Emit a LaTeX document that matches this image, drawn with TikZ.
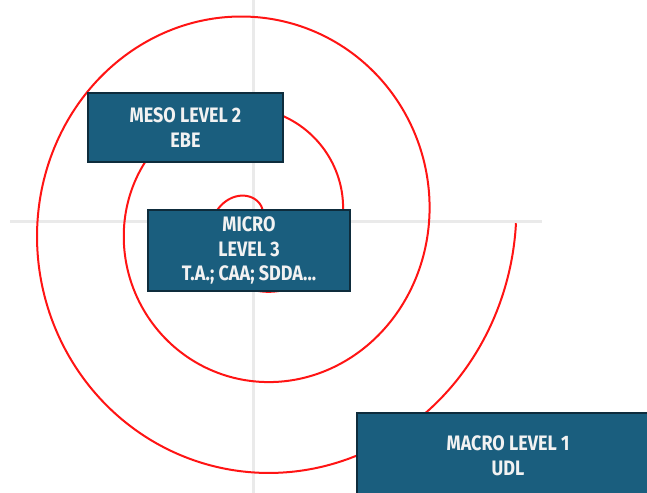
\documentclass[tikz,border=0pt]{standalone}
\usepackage{fontspec}
\setmainfont{Fira Sans}[FakeStretch=0.86]
\definecolor{boxfill}{RGB}{26,94,126}
\definecolor{boxline}{RGB}{14,44,60}
\definecolor{gridgray}{RGB}{234,234,234}
\definecolor{spiralred}{RGB}{255,20,20}
\tikzset{
  gridline/.style={draw=gridgray, line width=3bp},
  spiralline/.style={draw=spiralred, line width=2bp},
  lvl/.style={draw=boxline, fill=boxfill, text=white!95!black, align=center,
    line width=1.3bp, inner sep=0pt,
    font=\bfseries\fontsize{21}{25}\selectfont}
}
\begin{document}
\begin{tikzpicture}[x=1bp,y=-1bp]
\useasboundingbox (0,0) rectangle (647,493);
\clip (0,0) rectangle (647,493);
\fill[white] (0,0) rectangle (647,493);
\draw[gridline] (253,0) -- (253,493);
\draw[gridline] (10,222) -- (542,222);
\draw[spiralline] plot[domain=0:18.85, samples=500, smooth]
  ({255+13.85*\x*cos(\x r)}, {222-14.5*\x*sin(\x r)});
\node[lvl, minimum width=195bp, minimum height=69bp] (meso) at (185.5,127.5) {MESO LEVEL 2\\EBE};
\node[lvl, minimum width=202bp, minimum height=81bp] (micro) at (249,250.5) {MICRO\\LEVEL 3\\T.A.; CAA; SDDA...};
\node[lvl, minimum width=302bp, minimum height=86bp] (macro) at (508,456) {MACRO LEVEL 1\\UDL};
\end{tikzpicture}
\end{document}
